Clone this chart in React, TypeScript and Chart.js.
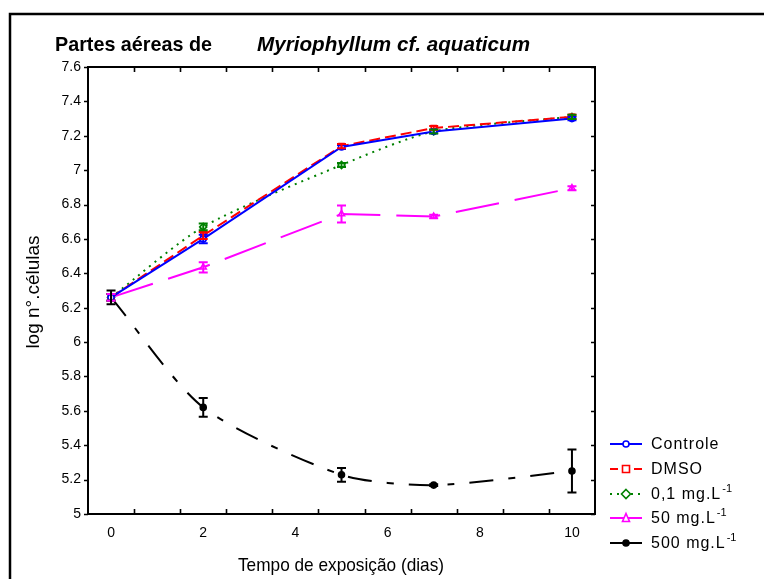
import React, { useEffect, useRef } from "react";
import { Chart, registerables } from "chart.js";

Chart.register(...registerables);

// Exposure days and log cell counts (mean ± error) per treatment
const days = [0, 2, 5, 7, 10];

const controle = [6.26, 6.6, 7.135, 7.225, 7.3];
const controleErr = [0.02, 0.025, 0.012, 0.01, 0.01];

const dmso = [6.26, 6.62, 7.14, 7.245, 7.31];
const dmsoErr = [0.02, 0.02, 0.012, 0.012, 0.012];

const dose01 = [6.26, 6.67, 7.03, 7.225, 7.31];
const dose01Err = [0.02, 0.02, 0.012, 0.012, 0.012];

const dose50 = [6.26, 6.435, 6.745, 6.73, 6.895];
const dose50Err = [0.02, 0.03, 0.05, 0.01, 0.012];

const dose500 = [6.26, 5.62, 5.228, 5.168, 5.25];
const dose500Err = [0.04, 0.055, 0.04, 0.005, 0.125];

const xLabels = [0, 2, 4, 6, 8, 10];
const xMarks = [0.5, 1.5, 2.5, 3.5, 4.5, 5.5, 6.5, 7.5, 8.5, 9.5];
const yLabels = [5, 5.2, 5.4, 5.6, 5.8, 6, 6.2, 6.4, 6.6, 6.8, 7, 7.2, 7.4, 7.6];

const seriesNames = ["Controle", "DMSO", "0,1 mg.L", "50 mg.L", "500 mg.L"];
const seriesSup = ["", "", "-1", "-1", "-1"];

const FONT = "'Liberation Sans', Arial, Helvetica, sans-serif";

type Series = {
  values: number[];
  errs: number[];
  color: string;
  dash: number[];
  style: string;
  fill: string;
  radius: number;
  tension: number;
};

const series: Series[] = [
  { values: controle, errs: controleErr, color: "#0000ff", dash: [], style: "circle", fill: "#ffffff", radius: 3, tension: 0 },
  { values: dmso, errs: dmsoErr, color: "#ff0000", dash: [11, 5], style: "rect", fill: "#ffffff", radius: 3.5, tension: 0 },
  { values: dose01, errs: dose01Err, color: "#008000", dash: [2, 5], style: "rectRot", fill: "#ffffff", radius: 3.5, tension: 0.25 },
  { values: dose50, errs: dose50Err, color: "#ff00ff", dash: [44, 16], style: "triangle", fill: "#ffffff", radius: 3.5, tension: 0 },
  { values: dose500, errs: dose500Err, color: "#000000", dash: [24, 15, 7, 15], style: "circle", fill: "#000000", radius: 3, tension: 0.25 },
];

function drawMarker(ctx: CanvasRenderingContext2D, s: Series, x: number, y: number) {
  ctx.save();
  ctx.setLineDash([]);
  ctx.lineWidth = 1.6;
  ctx.strokeStyle = s.color;
  ctx.fillStyle = s.fill;
  const r = s.radius;
  ctx.beginPath();
  if (s.style === "circle") {
    ctx.arc(x, y, r, 0, Math.PI * 2);
  } else if (s.style === "rect") {
    ctx.rect(x - r, y - r, 2 * r, 2 * r);
  } else if (s.style === "rectRot") {
    ctx.moveTo(x, y - r - 1);
    ctx.lineTo(x + r + 1, y);
    ctx.lineTo(x, y + r + 1);
    ctx.lineTo(x - r - 1, y);
    ctx.closePath();
  } else {
    ctx.moveTo(x, y - r - 1);
    ctx.lineTo(x + r, y + r);
    ctx.lineTo(x - r, y + r);
    ctx.closePath();
  }
  ctx.fill();
  ctx.stroke();
  ctx.restore();
}

const decorPlugin = {
  id: "decor",
  beforeDraw(chart: any) {
    const ctx: CanvasRenderingContext2D = chart.ctx;
    ctx.save();
    ctx.fillStyle = "#ffffff";
    ctx.fillRect(0, 0, chart.width, chart.height);
    // outer frame
    ctx.strokeStyle = "#000";
    ctx.lineWidth = 2.5;
    ctx.beginPath();
    ctx.moveTo(10, chart.height + 2);
    ctx.lineTo(10, 14);
    ctx.lineTo(chart.width + 2, 14);
    ctx.stroke();
    ctx.restore();
  },
  afterDatasetsDraw(chart: any) {
    const ctx: CanvasRenderingContext2D = chart.ctx;
    const xs = chart.scales.x;
    const ys = chart.scales.y;
    const area = chart.chartArea;

    // error bars
    series.forEach((s) => {
      ctx.save();
      ctx.strokeStyle = s.color;
      ctx.lineWidth = 2;
      ctx.setLineDash([]);
      s.values.forEach((v, i) => {
        const px = xs.getPixelForValue(days[i]);
        const top = ys.getPixelForValue(v + s.errs[i]);
        const bot = ys.getPixelForValue(v - s.errs[i]);
        ctx.beginPath();
        ctx.moveTo(px, top);
        ctx.lineTo(px, bot);
        ctx.moveTo(px - 4.5, top);
        ctx.lineTo(px + 4.5, top);
        ctx.moveTo(px - 4.5, bot);
        ctx.lineTo(px + 4.5, bot);
        ctx.stroke();
      });
      ctx.restore();
    });

    // plot box and tick marks
    ctx.save();
    ctx.strokeStyle = "#000";
    ctx.lineWidth = 2;
    ctx.strokeRect(area.left, area.top, area.right - area.left, area.bottom - area.top);
    ctx.lineWidth = 1.6;
    ctx.beginPath();
    xMarks.forEach((m) => {
      const px = Math.round(xs.getPixelForValue(m)) + 0.5;
      ctx.moveTo(px, area.bottom);
      ctx.lineTo(px, area.bottom - 5);
      ctx.moveTo(px, area.top);
      ctx.lineTo(px, area.top + 5);
    });
    yLabels.forEach((t) => {
      const py = Math.round(ys.getPixelForValue(t)) + 0.5;
      ctx.moveTo(area.left - 4, py);
      ctx.lineTo(area.left, py);
      ctx.moveTo(area.right, py);
      ctx.lineTo(area.right - 4, py);
    });
    ctx.stroke();
    ctx.restore();
  },
  afterDraw(chart: any) {
    const ctx: CanvasRenderingContext2D = chart.ctx;
    ctx.save();
    ctx.fillStyle = "#000";
    ctx.textBaseline = "alphabetic";

    // title
    ctx.font = `bold 21px ${FONT}`;
    ctx.textAlign = "left";
    ctx.fillText("Partes aéreas de", 55, 51, 157);
    ctx.font = `italic bold 21px ${FONT}`;
    ctx.fillText("Myriophyllum cf. aquaticum", 257, 51, 273);

    // axis titles
    ctx.font = `19px ${FONT}`;
    ctx.textAlign = "center";
    ctx.textBaseline = "middle";
    ctx.fillText("Tempo de exposição (dias)", 341, 566, 206);
    ctx.save();
    ctx.translate(34, 292);
    ctx.rotate(-Math.PI / 2);
    ctx.fillText("log n°.células", 0, 0);
    ctx.restore();

    // legend
    const rows = [444, 469, 494, 518, 543];
    series.forEach((s, i) => {
      const y = rows[i];
      ctx.save();
      ctx.strokeStyle = s.color;
      ctx.lineWidth = 2;
      ctx.setLineDash(i === 2 ? [2, 5] : []);
      ctx.beginPath();
      if (i === 1) {
        ctx.moveTo(610, y);
        ctx.lineTo(618, y);
        ctx.moveTo(634, y);
        ctx.lineTo(642, y);
      } else {
        ctx.moveTo(610, y);
        ctx.lineTo(642, y);
      }
      ctx.stroke();
      ctx.restore();
      drawMarker(ctx, s, 626, y);

      ctx.save();
      ctx.fillStyle = "#000";
      ctx.font = `16px ${FONT}`;
      (ctx as any).letterSpacing = "1px";
      ctx.textAlign = "left";
      ctx.textBaseline = "middle";
      ctx.fillText(seriesNames[i], 651, y + 1);
      if (seriesSup[i]) {
        const w = ctx.measureText(seriesNames[i]).width;
        ctx.font = `11px ${FONT}`;
        (ctx as any).letterSpacing = "0px";
        ctx.fillText(seriesSup[i], 651 + w + 1, y - 5);
      }
      ctx.restore();
    });
    ctx.restore();
  },
};

export default function App() {
  const ref = useRef<HTMLCanvasElement>(null);

  useEffect(() => {
    const datasets = series.map((s, i) => ({
      label: seriesNames[i],
      data: days.map((d, j) => ({ x: d, y: s.values[j] })),
      borderColor: s.color,
      borderWidth: 2,
      borderDash: s.dash,
      tension: s.tension,
      cubicInterpolationMode: "default" as const,
      pointStyle: s.style as any,
      pointRadius: s.radius,
      pointBackgroundColor: s.fill,
      pointBorderColor: s.color,
      pointBorderWidth: 1.6,
      fill: false,
    }));

    const chart = new Chart(ref.current as HTMLCanvasElement, {
      type: "line",
      data: { datasets },
      options: {
        responsive: false,
        animation: false,
        devicePixelRatio: 1,
        layout: { padding: { top: 67, right: 169, left: 0, bottom: 0 } },
        plugins: {
          legend: { display: false },
          tooltip: { enabled: false },
          title: { display: false },
        },
        scales: {
          x: {
            type: "linear",
            min: -0.5,
            max: 10.5,
            afterBuildTicks: (scale: any) => {
              scale.ticks = xLabels.map((v) => ({ value: v }));
            },
            afterFit: (scale: any) => {
              scale.height = 65;
            },
            grid: { display: false, drawTicks: false },
            border: { display: false },
            ticks: {
              color: "#000",
              font: { family: FONT, size: 14 },
              padding: 11,
              maxRotation: 0,
              autoSkip: false,
              callback: (v: any) => String(v),
            },
          },
          y: {
            type: "linear",
            min: 5,
            max: 7.6,
            afterBuildTicks: (scale: any) => {
              scale.ticks = yLabels.map((v) => ({ value: v }));
            },
            afterFit: (scale: any) => {
              scale.width = 88;
            },
            grid: { display: false, drawTicks: false },
            border: { display: false },
            ticks: {
              color: "#000",
              font: { family: FONT, size: 14 },
              padding: 7,
              autoSkip: false,
              callback: (v: any) => String(Number(Number(v).toFixed(1))),
            },
          },
        },
      },
      plugins: [decorPlugin],
    });

    return () => chart.destroy();
  }, []);

  return (
    <div style={{ position: "absolute", left: 0, top: 0, width: 764, height: 579 }}>
      <canvas ref={ref} width={764} height={579} style={{ display: "block" }} />
    </div>
  );
}
